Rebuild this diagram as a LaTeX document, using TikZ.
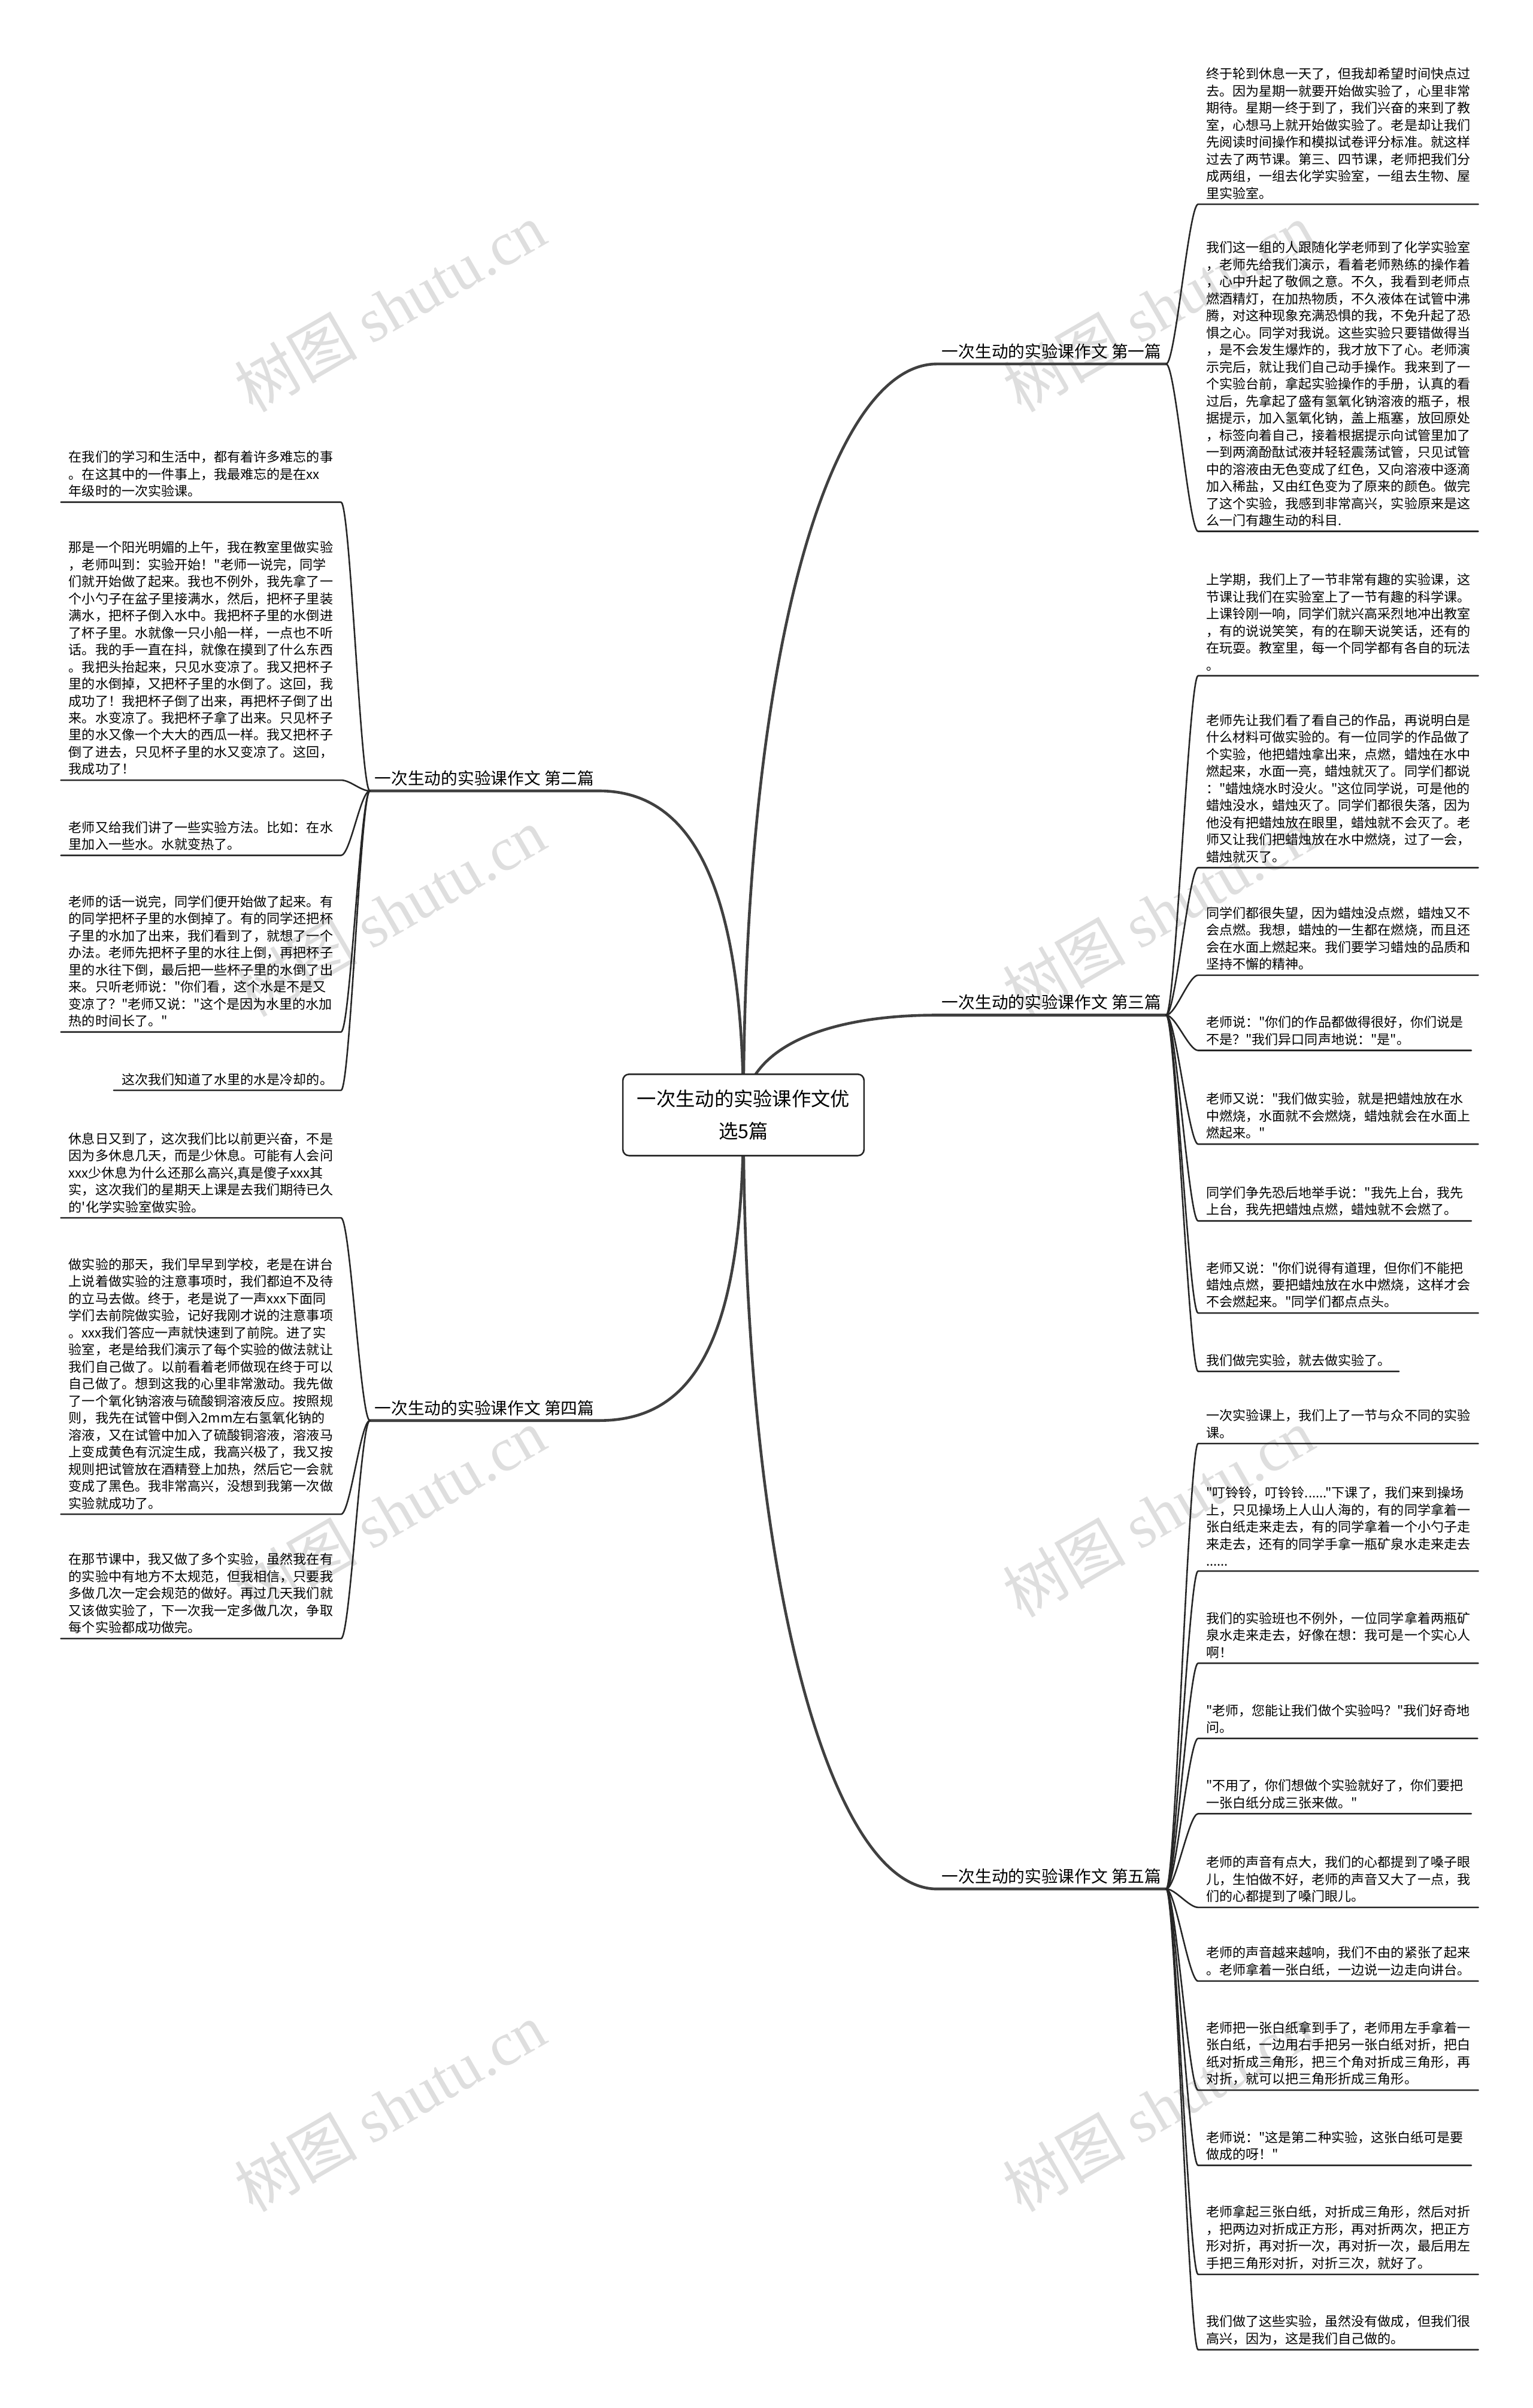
\documentclass[tikz,border=0pt]{standalone}
\usepackage{fontspec}
\setmainfont{Noto Sans CJK SC}[Ligatures=TeXOff]
\newfontfamily\markfont{Liberation Serif}
\begin{document}
\begin{tikzpicture}[x=1pt, y=-1pt, line cap=round, line join=round,
    root/.style={draw=black!85, line width=1pt, rounded corners=4pt, fill=white, align=center,
      minimum width=157pt, minimum height=53pt, font=\fontsize{12.6}{21}\selectfont},
    branch/.style={inner xsep=3pt, inner ysep=3pt, font=\fontsize{10.8}{13}\selectfont},
    leaf/.style={align=left, inner xsep=5pt, inner ysep=3pt, font=\fontsize{8.6}{11.1}\selectfont},
    stem/.style={draw=black!75, line width=1.8pt},
    twig/.style={draw=black!85, line width=1pt},
    wmark/.style={text=black!13, rotate=30, font=\fontsize{40}{40}\selectfont}]
  \useasboundingbox (0,0) rectangle (998,1568);
  \node[wmark] (w1) at (254,200) {树图 {\markfont shutu.cn}};
  \node[wmark] (w2) at (754,200) {树图 {\markfont shutu.cn}};
  \node[wmark] (w3) at (254,594) {树图 {\markfont shutu.cn}};
  \node[wmark] (w4) at (754,594) {树图 {\markfont shutu.cn}};
  \node[wmark] (w5) at (254,985) {树图 {\markfont shutu.cn}};
  \node[wmark] (w6) at (754,985) {树图 {\markfont shutu.cn}};
  \node[wmark] (w7) at (254,1372) {树图 {\markfont shutu.cn}};
  \node[wmark] (w8) at (754,1372) {树图 {\markfont shutu.cn}};
  \coordinate (hub) at (484,726);
  \node[branch, anchor=south west] (p1) at (610,237) {一次生动的实验课作文 第一篇};
  \node[branch, anchor=south east] (p2) at (390,515) {一次生动的实验课作文 第二篇};
  \node[branch, anchor=south west] (p3) at (610,661) {一次生动的实验课作文 第三篇};
  \node[branch, anchor=south east] (p4) at (390,925) {一次生动的实验课作文 第四篇};
  \node[branch, anchor=south west] (p5) at (610,1230) {一次生动的实验课作文 第五篇};
  \node[leaf, anchor=south west] (p1a) at (780,133) {终于轮到休息一天了，但我却希望时间快点过\\
    去。因为星期一就要开始做实验了，心里非常\\
    期待。星期一终于到了，我们兴奋的来到了教\\
    室，心想马上就开始做实验了。老是却让我们\\
    先阅读时间操作和模拟试卷评分标准。就这样\\
    过去了两节课。第三、四节课，老师把我们分\\
    成两组，一组去化学实验室，一组去生物、屋\\
    里实验室。};
  \node[leaf, anchor=south west] (p1b) at (780,346) {我们这一组的人跟随化学老师到了化学实验室\\
    ，老师先给我们演示，看着老师熟练的操作着\\
    ，心中升起了敬佩之意。不久，我看到老师点\\
    燃酒精灯，在加热物质，不久液体在试管中沸\\
    腾，对这种现象充满恐惧的我，不免升起了恐\\
    惧之心。同学对我说。这些实验只要错做得当\\
    ，是不会发生爆炸的，我才放下了心。老师演\\
    示完后，就让我们自己动手操作。我来到了一\\
    个实验台前，拿起实验操作的手册，认真的看\\
    过后，先拿起了盛有氢氧化钠溶液的瓶子，根\\
    据提示，加入氢氧化钠，盖上瓶塞，放回原处\\
    ，标签向着自己，接着根据提示向试管里加了\\
    一到两滴酚酞试液并轻轻震荡试管，只见试管\\
    中的溶液由无色变成了红色，又向溶液中逐滴\\
    加入稀盐，又由红色变为了原来的颜色。做完\\
    了这个实验，我感到非常高兴，实验原来是这\\
    么一门有趣生动的科目.};
  \node[leaf, anchor=south west] (p3a) at (780,440) {上学期，我们上了一节非常有趣的实验课，这\\
    节课让我们在实验室上了一节有趣的科学课。\\
    上课铃刚一响，同学们就兴高采烈地冲出教室\\
    ，有的说说笑笑，有的在聊天说笑话，还有的\\
    在玩耍。教室里，每一个同学都有各自的玩法\\
    。};
  \node[leaf, anchor=south west] (p3b) at (780,565) {老师先让我们看了看自己的作品，再说明白是\\
    什么材料可做实验的。有一位同学的作品做了\\
    个实验，他把蜡烛拿出来，点燃，蜡烛在水中\\
    燃起来，水面一亮，蜡烛就灭了。同学们都说\\
    ："蜡烛烧水时没火。"这位同学说，可是他的\\
    蜡烛没水，蜡烛灭了。同学们都很失落，因为\\
    他没有把蜡烛放在眼里，蜡烛就不会灭了。老\\
    师又让我们把蜡烛放在水中燃烧，过了一会，\\
    蜡烛就灭了。};
  \node[leaf, anchor=south west] (p3c) at (780,635) {同学们都很失望，因为蜡烛没点燃，蜡烛又不\\
    会点燃。我想，蜡烛的一生都在燃烧，而且还\\
    会在水面上燃起来。我们要学习蜡烛的品质和\\
    坚持不懈的精神。};
  \node[leaf, anchor=south west] (p3d) at (780,684) {老师说："你们的作品都做得很好，你们说是\\
    不是？"我们异口同声地说："是"。};
  \node[leaf, anchor=south west] (p3e) at (780,745) {老师又说："我们做实验，就是把蜡烛放在水\\
    中燃烧，水面就不会燃烧，蜡烛就会在水面上\\
    燃起来。"};
  \node[leaf, anchor=south west] (p3f) at (780,795) {同学们争先恐后地举手说："我先上台，我先\\
    上台，我先把蜡烛点燃，蜡烛就不会燃了。};
  \node[leaf, anchor=south west] (p3g) at (780,855) {老师又说："你们说得有道理，但你们不能把\\
    蜡烛点燃，要把蜡烛放在水中燃烧，这样才会\\
    不会燃起来。"同学们都点点头。};
  \node[leaf, anchor=south west] (p3h) at (780,893) {我们做完实验，就去做实验了。};
  \node[leaf, anchor=south west] (p5a) at (780,940) {一次实验课上，我们上了一节与众不同的实验\\
    课。};
  \node[leaf, anchor=south west] (p5b) at (780,1023) {"叮铃铃，叮铃铃......"下课了，我们来到操场\\
    上，只见操场上人山人海的，有的同学拿着一\\
    张白纸走来走去，有的同学拿着一个小勺子走\\
    来走去，还有的同学手拿一瓶矿泉水走来走去\\
    ......};
  \node[leaf, anchor=south west] (p5c) at (780,1083) {我们的实验班也不例外，一位同学拿着两瓶矿\\
    泉水走来走去，好像在想：我可是一个实心人\\
    啊！};
  \node[leaf, anchor=south west] (p5d) at (780,1132) {"老师，您能让我们做个实验吗？"我们好奇地\\
    问。};
  \node[leaf, anchor=south west] (p5e) at (780,1181) {"不用了，你们想做个实验就好了，你们要把\\
    一张白纸分成三张来做。"};
  \node[leaf, anchor=south west] (p5f) at (780,1242) {老师的声音有点大，我们的心都提到了嗓子眼\\
    儿，生怕做不好，老师的声音又大了一点，我\\
    们的心都提到了嗓门眼儿。};
  \node[leaf, anchor=south west] (p5g) at (780,1290) {老师的声音越来越响，我们不由的紧张了起来\\
    。老师拿着一张白纸，一边说一边走向讲台。};
  \node[leaf, anchor=south west] (p5h) at (780,1361) {老师把一张白纸拿到手了，老师用左手拿着一\\
    张白纸，一边用右手把另一张白纸对折，把白\\
    纸对折成三角形，把三个角对折成三角形，再\\
    对折，就可以把三角形折成三角形。};
  \node[leaf, anchor=south west] (p5i) at (780,1410) {老师说："这是第二种实验，这张白纸可是要\\
    做成的呀！"};
  \node[leaf, anchor=south west] (p5j) at (780,1481) {老师拿起三张白纸，对折成三角形，然后对折\\
    ，把两边对折成正方形，再对折两次，把正方\\
    形对折，再对折一次，再对折一次，最后用左\\
    手把三角形对折，对折三次，就好了。};
  \node[leaf, anchor=south west] (p5k) at (780,1530) {我们做了这些实验，虽然没有做成，但我们很\\
    高兴，因为，这是我们自己做的。};
  \node[leaf, anchor=south east] (p2a) at (222,327) {在我们的学习和生活中，都有着许多难忘的事\\
    。在这其中的一件事上，我最难忘的是在xx\\
    年级时的一次实验课。};
  \node[leaf, anchor=south east] (p2b) at (222,508) {那是一个阳光明媚的上午，我在教室里做实验\\
    ，老师叫到：实验开始！"老师一说完，同学\\
    们就开始做了起来。我也不例外，我先拿了一\\
    个小勺子在盆子里接满水，然后，把杯子里装\\
    满水，把杯子倒入水中。我把杯子里的水倒进\\
    了杯子里。水就像一只小船一样，一点也不听\\
    话。我的手一直在抖，就像在摸到了什么东西\\
    。我把头抬起来，只见水变凉了。我又把杯子\\
    里的水倒掉，又把杯子里的水倒了。这回，我\\
    成功了！我把杯子倒了出来，再把杯子倒了出\\
    来。水变凉了。我把杯子拿了出来。只见杯子\\
    里的水又像一个大大的西瓜一样。我又把杯子\\
    倒了进去，只见杯子里的水又变凉了。这回，\\
    我成功了！};
  \node[leaf, anchor=south east] (p2c) at (222,557) {老师又给我们讲了一些实验方法。比如：在水\\
    里加入一些水。水就变热了。};
  \node[leaf, anchor=south east] (p2d) at (222,672) {老师的话一说完，同学们便开始做了起来。有\\
    的同学把杯子里的水倒掉了。有的同学还把杯\\
    子里的水加了出来，我们看到了，就想了一个\\
    办法。老师先把杯子里的水往上倒，再把杯子\\
    里的水往下倒，最后把一些杯子里的水倒了出\\
    来。只听老师说："你们看，这个水是不是又\\
    变凉了？"老师又说："这个是因为水里的水加\\
    热的时间长了。"};
  \node[leaf, anchor=south east] (p2e) at (222,710) {这次我们知道了水里的水是冷却的。};
  \node[leaf, anchor=south east] (p4a) at (222,793) {休息日又到了，这次我们比以前更兴奋，不是\\
    因为多休息几天，而是少休息。可能有人会问\\
    xxx少休息为什么还那么高兴,真是傻子xxx其\\
    实，这次我们的星期天上课是去我们期待已久\\
    的'化学实验室做实验。};
  \node[leaf, anchor=south east] (p4b) at (222,986) {做实验的那天，我们早早到学校，老是在讲台\\
    上说着做实验的注意事项时，我们都迫不及待\\
    的立马去做。终于，老是说了一声xxx下面同\\
    学们去前院做实验，记好我刚才说的注意事项\\
    。xxx我们答应一声就快速到了前院。进了实\\
    验室，老是给我们演示了每个实验的做法就让\\
    我们自己做了。以前看着老师做现在终于可以\\
    自己做了。想到这我的心里非常激动。我先做\\
    了一个氧化钠溶液与硫酸铜溶液反应。按照规\\
    则，我先在试管中倒入2mm左右氢氧化钠的\\
    溶液，又在试管中加入了硫酸铜溶液，溶液马\\
    上变成黄色有沉淀生成，我高兴极了，我又按\\
    规则把试管放在酒精登上加热，然后它一会就\\
    变成了黑色。我非常高兴，没想到我第一次做\\
    实验就成功了。};
  \node[leaf, anchor=south east] (p4c) at (222,1067) {在那节课中，我又做了多个实验，虽然我在有\\
    的实验中有地方不太规范，但我相信，只要我\\
    多做几次一定会规范的做好。再过几天我们就\\
    又该做实验了，下一次我一定多做几次，争取\\
    每个实验都成功做完。};
  \draw[stem] (hub) .. controls +(0,-300) and +(-70,0) .. (p1.south west) -- (p1.south east);
  \draw[stem] (hub) .. controls +(0,-150) and +(60,0) .. (p2.south east) -- (p2.south west);
  \draw[stem] (hub) .. controls +(0,-45) and +(-70,0) .. (p3.south west) -- (p3.south east);
  \draw[stem] (hub) .. controls +(0,150) and +(60,0) .. (p4.south east) -- (p4.south west);
  \draw[stem] (hub) .. controls +(0,300) and +(-70,0) .. (p5.south west) -- (p5.south east);
  \node[root] (top) at (hub) {一次生动的实验课作文优\\选5篇};
  \draw[twig] (p1.south east) .. controls +(6,0) and +(-6,0) .. (p1a.south west) -- (p1a.south east);
  \draw[twig] (p1.south east) .. controls +(6,0) and +(-6,0) .. (p1b.south west) -- (p1b.south east);
  \draw[twig] (p3.south east) .. controls +(6,0) and +(-6,0) .. (p3a.south west) -- (p3a.south east);
  \draw[twig] (p3.south east) .. controls +(6,0) and +(-6,0) .. (p3b.south west) -- (p3b.south east);
  \draw[twig] (p3.south east) .. controls +(6,0) and +(-6,0) .. (p3c.south west) -- (p3c.south east);
  \draw[twig] (p3.south east) .. controls +(6,0) and +(-6,0) .. (p3d.south west) -- (p3d.south east);
  \draw[twig] (p3.south east) .. controls +(6,0) and +(-6,0) .. (p3e.south west) -- (p3e.south east);
  \draw[twig] (p3.south east) .. controls +(6,0) and +(-6,0) .. (p3f.south west) -- (p3f.south east);
  \draw[twig] (p3.south east) .. controls +(6,0) and +(-6,0) .. (p3g.south west) -- (p3g.south east);
  \draw[twig] (p3.south east) .. controls +(6,0) and +(-6,0) .. (p3h.south west) -- (p3h.south east);
  \draw[twig] (p5.south east) .. controls +(6,0) and +(-6,0) .. (p5a.south west) -- (p5a.south east);
  \draw[twig] (p5.south east) .. controls +(6,0) and +(-6,0) .. (p5b.south west) -- (p5b.south east);
  \draw[twig] (p5.south east) .. controls +(6,0) and +(-6,0) .. (p5c.south west) -- (p5c.south east);
  \draw[twig] (p5.south east) .. controls +(6,0) and +(-6,0) .. (p5d.south west) -- (p5d.south east);
  \draw[twig] (p5.south east) .. controls +(6,0) and +(-6,0) .. (p5e.south west) -- (p5e.south east);
  \draw[twig] (p5.south east) .. controls +(6,0) and +(-6,0) .. (p5f.south west) -- (p5f.south east);
  \draw[twig] (p5.south east) .. controls +(6,0) and +(-6,0) .. (p5g.south west) -- (p5g.south east);
  \draw[twig] (p5.south east) .. controls +(6,0) and +(-6,0) .. (p5h.south west) -- (p5h.south east);
  \draw[twig] (p5.south east) .. controls +(6,0) and +(-6,0) .. (p5i.south west) -- (p5i.south east);
  \draw[twig] (p5.south east) .. controls +(6,0) and +(-6,0) .. (p5j.south west) -- (p5j.south east);
  \draw[twig] (p5.south east) .. controls +(6,0) and +(-6,0) .. (p5k.south west) -- (p5k.south east);
  \draw[twig] (p2.south west) .. controls +(-6,0) and +(6,0) .. (p2a.south east) -- (p2a.south west);
  \draw[twig] (p2.south west) .. controls +(-6,0) and +(6,0) .. (p2b.south east) -- (p2b.south west);
  \draw[twig] (p2.south west) .. controls +(-6,0) and +(6,0) .. (p2c.south east) -- (p2c.south west);
  \draw[twig] (p2.south west) .. controls +(-6,0) and +(6,0) .. (p2d.south east) -- (p2d.south west);
  \draw[twig] (p2.south west) .. controls +(-6,0) and +(6,0) .. (p2e.south east) -- (p2e.south west);
  \draw[twig] (p4.south west) .. controls +(-6,0) and +(6,0) .. (p4a.south east) -- (p4a.south west);
  \draw[twig] (p4.south west) .. controls +(-6,0) and +(6,0) .. (p4b.south east) -- (p4b.south west);
  \draw[twig] (p4.south west) .. controls +(-6,0) and +(6,0) .. (p4c.south east) -- (p4c.south west);
\end{tikzpicture}
\end{document}
